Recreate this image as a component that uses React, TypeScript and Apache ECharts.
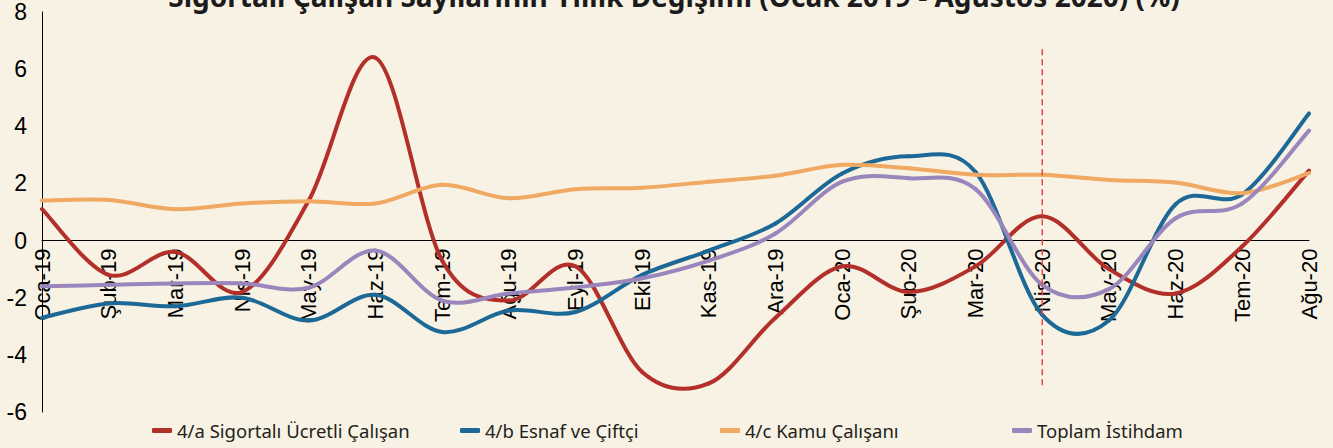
import React, { useEffect, useRef } from "react";
import * as echarts from "echarts";

const titleText = "Sigortalı Çalışan Sayılarının Yıllık Değişimi (Ocak 2019 - Ağustos 2020) (%)";

const categories = [
  "Oca-19", "Şub-19", "Mar-19", "Nis-19", "May-19", "Haz-19", "Tem-19", "Ağu-19", "Eyl-19", "Eki-19",
  "Kas-19", "Ara-19", "Oca-20", "Şub-20", "Mar-20", "Nis-20", "May-20", "Haz-20", "Tem-20", "Ağu-20",
];

const seriesNames = [
  "4/a Sigortalı Ücretli Çalışan",
  "4/b Esnaf ve Çiftçi",
  "4/c Kamu Çalışanı",
  "Toplam İstihdam",
];

const ucretli = [1.1, -1.2, -0.4, -1.8, 1.4, 6.4, -0.7, -2.1, -0.9, -4.6, -5.0, -2.7, -0.9, -1.8, -0.9, 0.85, -1.0, -1.85, -0.2, 2.45];
const esnaf = [-2.7, -2.2, -2.3, -2.0, -2.8, -1.9, -3.2, -2.45, -2.5, -1.2, -0.35, 0.6, 2.35, 2.95, 2.4, -2.6, -2.8, 1.27, 1.62, 4.45];
const kamu = [1.4, 1.42, 1.1, 1.3, 1.38, 1.3, 1.95, 1.48, 1.8, 1.85, 2.06, 2.27, 2.65, 2.53, 2.3, 2.3, 2.12, 2.03, 1.66, 2.36];
const toplam = [-1.6, -1.55, -1.5, -1.5, -1.65, -0.35, -2.1, -1.85, -1.64, -1.32, -0.7, 0.25, 2.06, 2.18, 1.8, -1.55, -1.7, 0.78, 1.3, 3.85];

const yTicks = { min: -6, max: 8, interval: 2 };
const markerCategory = "Nis-20";
const markerRange = [6.7, -5.15];

const colors = ["#b32f2a", "#1c6896", "#f0a962", "#9a85bd"];
const legendLefts = [152, 460, 720, 1012];

// Excel-like smoothed curve: one cubic Bezier per segment (Catmull-Rom, tension 1/6)
function makeSmoothRenderer(values: number[], color: string) {
  return (params: any, api: any) => {
    const i = params.dataIndex;
    const n = values.length;
    if (i >= n - 1) return { type: "group", children: [] };
    const pt = (j: number) => {
      const k = Math.max(0, Math.min(n - 1, j));
      return api.coord([k, values[k]]);
    };
    const p0 = pt(i - 1);
    const p1 = pt(i);
    const p2 = pt(i + 1);
    const p3 = pt(i + 2);
    return {
      type: "bezierCurve",
      shape: {
        x1: p1[0],
        y1: p1[1],
        cpx1: p1[0] + (p2[0] - p0[0]) / 6,
        cpy1: p1[1] + (p2[1] - p0[1]) / 6,
        cpx2: p2[0] - (p3[0] - p1[0]) / 6,
        cpy2: p2[1] - (p3[1] - p1[1]) / 6,
        x2: p2[0],
        y2: p2[1],
      },
      style: { stroke: color, lineWidth: 4, fill: "none", lineCap: "round" },
    };
  };
}

export default function App() {
  const ref = useRef<HTMLDivElement>(null);

  useEffect(() => {
    document.body.style.margin = "0";
    if (!ref.current) return;
    const chart = echarts.init(ref.current, null, { renderer: "svg" });
    const data = [ucretli, esnaf, kamu, toplam];
    const markerIndex = categories.indexOf(markerCategory);

    const gridTop = 12;
    const gridBottom = 36;
    const plotH = 448 - gridTop - gridBottom;
    const zeroOffset = -plotH * (0 - yTicks.min) / (yTicks.max - yTicks.min);

    chart.setOption({
      animation: false,
      backgroundColor: "#f7f2e3",
      grid: { left: 42, right: 24, top: gridTop, bottom: gridBottom, containLabel: false, outerBoundsMode: "none" },
      graphic: [
        {
          type: "text",
          x: 674,
          y: -4,
          style: {
            text: titleText,
            font: "bold 28px 'Noto Sans'",
            fill: "#1b1b1b",
            textAlign: "center",
            textVerticalAlign: "middle",
          },
        },
      ],
      legend: seriesNames.map((n, i) => ({
        data: [n],
        left: legendLefts[i],
        top: 421,
        padding: 0,
        icon: "roundRect",
        itemWidth: 20,
        itemHeight: 5,
        selectedMode: false,
        textStyle: { fontFamily: "'Noto Sans'", fontSize: 18.5, color: "#231f20" },
      })),
      xAxis: {
        type: "category",
        data: categories,
        boundaryGap: false,
        offset: zeroOffset,
        axisLine: { onZero: false, lineStyle: { color: "#000", width: 1 } },
        axisTick: { show: false },
        splitLine: { show: false },
        axisLabel: {
          interval: 0,
          rotate: 90,
          margin: 8,
          fontFamily: "'Liberation Sans', Arial",
          fontSize: 22,
          color: "#000",
        },
      },
      yAxis: {
        type: "value",
        min: yTicks.min,
        max: yTicks.max,
        interval: yTicks.interval,
        axisLine: { show: true, onZero: false, lineStyle: { color: "#000", width: 1 } },
        axisTick: { show: false },
        splitLine: { show: false },
        axisLabel: {
          margin: 15,
          fontFamily: "'Liberation Sans', Arial",
          fontSize: 23,
          color: "#000",
        },
      },
      series: [
        ...seriesNames.map((n, i) => ({
          name: n,
          type: "custom",
          coordinateSystem: "cartesian2d",
          data: data[i].map((v, k) => [k, v]),
          encode: { x: 0, y: 1 },
          itemStyle: { color: colors[i] },
          silent: true,
          renderItem: makeSmoothRenderer(data[i], colors[i]),
        })),
        {
          name: "marker",
          type: "custom",
          coordinateSystem: "cartesian2d",
          data: [[markerIndex, markerRange[0], markerRange[1]]],
          encode: { x: 0, y: [1, 2] },
          silent: true,
          z: 5,
          renderItem: (params: any, api: any) => {
            const a = api.coord([api.value(0), api.value(1)]);
            const b = api.coord([api.value(0), api.value(2)]);
            return {
              type: "line",
              shape: { x1: a[0], y1: a[1], x2: b[0], y2: b[1] },
              style: { stroke: "#e8474a", lineWidth: 1.5, lineDash: [6, 4] },
            };
          },
        },
      ],
    });

    return () => chart.dispose();
  }, []);

  return <div ref={ref} style={{ width: 1333, height: 448 }} />;
}
